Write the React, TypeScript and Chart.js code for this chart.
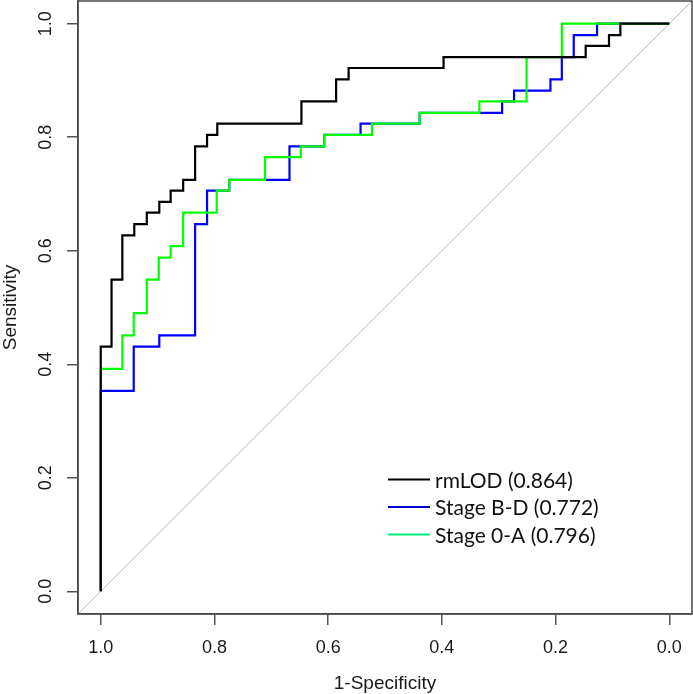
import React, { useEffect, useRef } from "react";
import { Chart, registerables } from "chart.js";

Chart.register(...registerables);

// ROC corner points (specificity, sensitivity), drawn as vertical-then-horizontal steps
const rmLodSpec = [1.0, 0.981, 0.962, 0.941, 0.919, 0.897, 0.877, 0.855, 0.834, 0.813, 0.795, 0.647, 0.586, 0.564, 0.397, 0.147, 0.106, 0.086, 0.0];
const rmLodSens = [0.0, 0.431, 0.549, 0.627, 0.647, 0.667, 0.686, 0.706, 0.725, 0.784, 0.804, 0.824, 0.863, 0.902, 0.922, 0.941, 0.961, 0.980, 1.0];

const stageBDSpec = [1.0, 0.942, 0.897, 0.834, 0.813, 0.774, 0.668, 0.607, 0.543, 0.439, 0.294, 0.273, 0.209, 0.189, 0.168, 0.127, 0.0];
const stageBDSens = [0.0, 0.353, 0.431, 0.451, 0.647, 0.706, 0.725, 0.784, 0.804, 0.824, 0.843, 0.863, 0.882, 0.902, 0.941, 0.980, 1.0];

const stage0ASpec = [1.0, 0.962, 0.942, 0.919, 0.898, 0.877, 0.855, 0.796, 0.774, 0.711, 0.648, 0.607, 0.523, 0.439, 0.334, 0.251, 0.189, 0.0];
const stage0ASens = [0.0, 0.392, 0.451, 0.490, 0.549, 0.588, 0.608, 0.667, 0.706, 0.725, 0.765, 0.784, 0.804, 0.824, 0.843, 0.863, 0.941, 1.0];

const diagSpec = [1.04, -0.04];
const diagSens = [-0.04, 1.04];

const xTickValues = [1.0, 0.8, 0.6, 0.4, 0.2, 0.0];
const yTickValues = [0.0, 0.2, 0.4, 0.6, 0.8, 1.0];

const legendLabels = ["rmLOD (0.864)", "Stage B-D (0.772)", "Stage 0-A (0.796)"];
const legendColors = ["#000000", "#0000d0", "#00ee78"];

const toPoints = (xs: number[], ys: number[]) => xs.map((x, i) => ({ x, y: ys[i] }));

const AXIS_FONT = "'Liberation Sans', Arial, sans-serif";
const LEGEND_FONT = "Lato, 'Open Sans', sans-serif";

const boxAndLegend = {
  id: "boxAndLegend",
  afterDraw(chart: any) {
    const { ctx, chartArea } = chart;
    ctx.save();
    ctx.strokeStyle = "#4a4a4a";
    ctx.lineWidth = 1.5;
    ctx.strokeRect(chartArea.left, chartArea.top, chartArea.right - chartArea.left, chartArea.bottom - chartArea.top);

    // legend
    const lx0 = 388;
    const lx1 = 430;
    const tx = 435;
    const baseY = [487.5, 515, 542.5];
    ctx.font = `21px ${LEGEND_FONT}`;
    ctx.textBaseline = "alphabetic";
    ctx.textAlign = "left";
    legendLabels.forEach((label, i) => {
      const ly = baseY[i] - 8;
      ctx.strokeStyle = legendColors[i];
      ctx.lineWidth = 2;
      ctx.beginPath();
      ctx.moveTo(lx0, ly);
      ctx.lineTo(lx1, ly);
      ctx.stroke();
      ctx.fillStyle = "#111";
      ctx.fillText(label, tx, baseY[i]);
    });
    ctx.restore();
  },
};

export default function App() {
  const ref = useRef<HTMLCanvasElement | null>(null);

  useEffect(() => {
    if (!ref.current) return;
    const lineDs = (label: string, xs: number[], ys: number[], color: string) => ({
      label,
      data: toPoints(xs, ys),
      showLine: true,
      stepped: "after" as const,
      borderColor: color,
      backgroundColor: color,
      borderWidth: 2.2,
      pointRadius: 0,
      fill: false,
      tension: 0,
    });

    const chart = new Chart(ref.current, {
      type: "scatter",
      data: {
        datasets: [
          lineDs("rmLOD", rmLodSpec, rmLodSens, "#000000"),
          lineDs("Stage 0-A", stage0ASpec, stage0ASens, "#00ff00"),
          lineDs("Stage B-D", stageBDSpec, stageBDSens, "#0000ff"),
          {
            label: "diag",
            data: toPoints(diagSpec, diagSens),
            showLine: true,
            borderColor: "#bdbdbd",
            borderWidth: 1,
            pointRadius: 0,
            fill: false,
          },
        ],
      },
      options: {
        responsive: false,
        animation: false,
        events: [],
        layout: { padding: { top: 1, right: 1, left: 0, bottom: 0 } },
        plugins: {
          legend: { display: false },
          tooltip: { enabled: false },
        },
        scales: {
          x: {
            type: "linear",
            reverse: true,
            min: -0.04,
            max: 1.04,
            afterBuildTicks: (scale: any) => {
              scale.ticks = xTickValues.map((v) => ({ value: v }));
            },
            afterFit: (scale: any) => {
              scale.height = 80;
              scale.paddingLeft = 0;
              scale.paddingRight = 0;
            },
            grid: {
              display: true,
              drawOnChartArea: false,
              drawTicks: true,
              tickLength: 11,
              color: "#555",
              lineWidth: 1.5,
            },
            border: { display: true, color: "#4a4a4a", width: 1.5 },
            ticks: {
              padding: 12,
              color: "#1a1a1a",
              font: { family: AXIS_FONT, size: 18 },
              maxRotation: 0,
              minRotation: 0,
              callback: (v: any) => Number(v).toFixed(1),
            },
            title: {
              display: true,
              text: "1-Specificity",
              color: "#1a1a1a",
              font: { family: AXIS_FONT, size: 19, lineHeight: 1 },
              padding: { top: 0, bottom: 1 },
            },
          },
          y: {
            type: "linear",
            min: -0.04,
            max: 1.04,
            afterBuildTicks: (scale: any) => {
              scale.ticks = yTickValues.map((v) => ({ value: v }));
            },
            afterFit: (scale: any) => {
              scale.width = 78;
              scale.paddingTop = 0;
              scale.paddingBottom = 0;
            },
            grid: {
              display: true,
              drawOnChartArea: false,
              drawTicks: true,
              tickLength: 11,
              color: "#555",
              lineWidth: 1.5,
            },
            border: { display: true, color: "#4a4a4a", width: 1.5 },
            ticks: {
              padding: 8,
              color: "#1a1a1a",
              crossAlign: "center",
              minRotation: 90,
              maxRotation: 90,
              font: { family: AXIS_FONT, size: 18 },
              callback: (v: any) => Number(v).toFixed(1),
            },
            title: {
              display: true,
              text: "Sensitivity",
              color: "#1a1a1a",
              font: { family: AXIS_FONT, size: 19, lineHeight: 1 },
              padding: { top: 1, bottom: 0 },
            },
          },
        },
      },
      plugins: [boxAndLegend],
    });
    return () => chart.destroy();
  }, []);

  return (
    <div style={{ position: "fixed", left: 0, top: 0, width: 693, height: 694, background: "#fff" }}>
      <canvas ref={ref} width={693} height={694} style={{ display: "block" }} />
    </div>
  );
}
